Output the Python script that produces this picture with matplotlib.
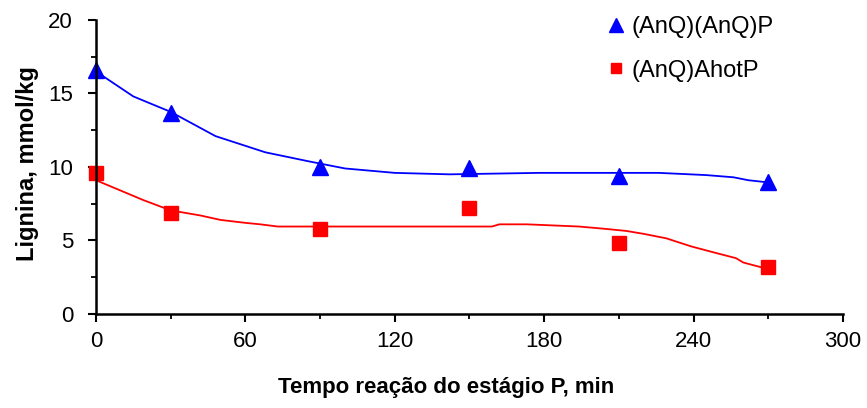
import matplotlib.pyplot as plt
from matplotlib.ticker import MultipleLocator

plt.rcParams["font.family"] = ["Liberation Sans", "DejaVu Sans"]

# measured lignin content
time_min = [0, 30, 90, 150, 210, 270]
lignin_anq_anq = [16.6, 13.7, 10.0, 9.9, 9.4, 9.0]
lignin_anq_ahot = [9.6, 6.9, 5.8, 7.2, 4.8, 3.2]

# smoothed trend curves
trend_t_anq_anq = [0, 15, 30, 48, 68, 85, 100, 120, 142, 178, 226, 245, 256, 262, 270]
trend_anq_anq = [16.5, 14.8, 13.75, 12.1, 11.0, 10.4, 9.9, 9.6, 9.5, 9.6, 9.6, 9.45, 9.3, 9.1, 8.95]

trend_t_anq_ahot = [0, 19, 30, 42, 50, 60, 66, 73, 122, 159, 162, 173, 194, 204, 213,
                    220, 229, 239, 249, 257, 260, 270]
trend_anq_ahot = [9.1, 7.75, 7.05, 6.7, 6.4, 6.2, 6.1, 5.95, 5.95, 5.95, 6.1, 6.1, 5.95, 5.8,
                  5.65, 5.45, 5.15, 4.6, 4.15, 3.8, 3.5, 3.05]

fig = plt.figure(figsize=(8.67, 4.08), dpi=100)
ax = fig.add_axes([0.1107, 0.2304, 0.8616, 0.7206])

ax.plot(trend_t_anq_anq, trend_anq_anq, color="#0000ff", lw=1.3)
ax.plot(trend_t_anq_ahot, trend_anq_ahot, color="#ff0000", lw=1.3)
ax.plot(time_min, lignin_anq_anq, ls="none", marker="^", ms=12, color="#0000ff",
        label="(AnQ)(AnQ)P", clip_on=False)
ax.plot(time_min, lignin_anq_ahot, ls="none", marker="s", ms=9.5, color="#ff0000",
        label="(AnQ)AhotP", clip_on=False)

ax.set_xlim(0, 300)
ax.set_ylim(0, 20)
ax.xaxis.set_major_locator(MultipleLocator(60))
ax.xaxis.set_minor_locator(MultipleLocator(30))
ax.yaxis.set_major_locator(MultipleLocator(5))
ax.yaxis.set_minor_locator(MultipleLocator(2.5))

for side in ("top", "right"):
    ax.spines[side].set_visible(False)
for side in ("left", "bottom"):
    ax.spines[side].set_linewidth(1.8)

ax.tick_params(axis="both", which="major", direction="out", length=6, width=1.5,
               labelsize=16)
ax.tick_params(axis="both", which="minor", direction="out", length=3.5, width=1.3)
ax.tick_params(axis="x", which="major", pad=6)
ax.tick_params(axis="y", which="major", pad=10.5)

ax.set_xlabel("Tempo reação do estágio P, min", fontsize=16, fontweight="bold")
ax.set_ylabel("Lignina, mmol/kg", fontsize=17, fontweight="bold")
ax.xaxis.set_label_coords(0.469, -0.214)
ax.yaxis.set_label_coords(-0.076, 0.51)

ax.legend(loc="upper left", bbox_to_anchor=(0.655, 1.085), frameon=False, fontsize=17,
          handlelength=0.8, handletextpad=0.25, labelspacing=0.9, markerscale=0.8)

fig.savefig("out.png", dpi=100)
